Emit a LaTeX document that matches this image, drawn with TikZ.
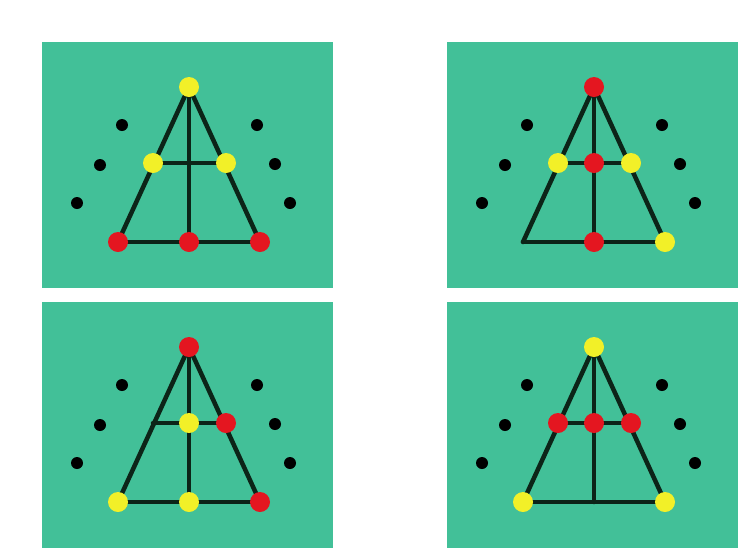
\documentclass[tikz,border=0pt]{standalone}
\definecolor{panelgreen}{RGB}{66,192,152}
\definecolor{dotred}{RGB}{228,22,32}
\definecolor{dotyellow}{RGB}{242,240,40}
\definecolor{linedark}{RGB}{12,36,24}
\tikzset{
  edge/.style={draw=linedark, line width=4.5pt, line cap=round},
  panel/.style={fill=panelgreen, draw=none},
  rd/.style={circle, fill=dotred, inner sep=0pt, minimum size=20pt},
  yd/.style={circle, fill=dotyellow, inner sep=0pt, minimum size=20pt},
  bd/.style={circle, fill=black, inner sep=0pt, minimum size=12pt},
}
\newcommand{\panelframe}[1]{%
  \fill[panelgreen] (42,42) rectangle (333,288);
  \coordinate (#1a) at (189,87);
  \coordinate (#1ml) at (153,163);
  \coordinate (#1mc) at (189,163);
  \coordinate (#1mr) at (226,163);
  \coordinate (#1bl) at (118,242);
  \coordinate (#1bc) at (189,242);
  \coordinate (#1br) at (260,242);
  \draw[edge] (#1a) -- (#1bl);
  \draw[edge] (#1a) -- (#1br);
  \draw[edge] (#1a) -- (#1bc);
  \draw[edge] (#1ml) -- (#1mr);
  \draw[edge] (#1bl) -- (#1br);
  \node[bd] (#1k1) at (122,125) {};
  \node[bd] (#1k2) at (100,165) {};
  \node[bd] (#1k3) at (77,203) {};
  \node[bd] (#1k4) at (257,125) {};
  \node[bd] (#1k5) at (275,164) {};
  \node[bd] (#1k6) at (290,203) {};
}
\begin{document}
\begin{tikzpicture}[x=1pt, y=-1pt]
\fill[white] (0,0) rectangle (753,558);
\useasboundingbox (0,0) rectangle (753,558);
% panel 1
\begin{scope}
\panelframe{p}
\node[yd] (pA) at (pa) {};
\node[yd] (pML) at (pml) {};
\node[yd] (pMR) at (pmr) {};
\node[rd] (pBL) at (pbl) {};
\node[rd] (pBC) at (pbc) {};
\node[rd] (pBR) at (pbr) {};
\end{scope}
% panel 2
\begin{scope}[shift={(405,0)}]
\panelframe{q}
\node[rd] (qA) at (qa) {};
\node[yd] (qML) at (qml) {};
\node[rd] (qMC) at (qmc) {};
\node[yd] (qMR) at (qmr) {};
\node[rd] (qBC) at (qbc) {};
\node[yd] (qBR) at (qbr) {};
\end{scope}
% panel 3
\begin{scope}[shift={(0,260)}]
\panelframe{r}
\node[rd] (rA) at (ra) {};
\node[yd] (rMC) at (rmc) {};
\node[rd] (rMR) at (rmr) {};
\node[yd] (rBL) at (rbl) {};
\node[yd] (rBC) at (rbc) {};
\node[rd] (rBR) at (rbr) {};
\end{scope}
% panel 4
\begin{scope}[shift={(405,260)}]
\panelframe{s}
\node[yd] (sA) at (sa) {};
\node[rd] (sML) at (sml) {};
\node[rd] (sMC) at (smc) {};
\node[rd] (sMR) at (smr) {};
\node[yd] (sBL) at (sbl) {};
\node[yd] (sBR) at (sbr) {};
\end{scope}
\end{tikzpicture}
\end{document}
